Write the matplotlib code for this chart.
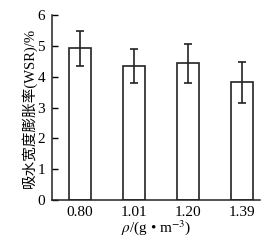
import numpy as np
import matplotlib
matplotlib.use('Agg')
import matplotlib.pyplot as plt

plt.rcParams['font.family'] = ['Liberation Serif', 'Noto Sans CJK SC']
plt.rcParams['mathtext.fontset'] = 'stix'

densities = ['0.80', '1.01', '1.20', '1.39']
wsr = [4.92, 4.34, 4.44, 3.82]
wsr_err = [0.57, 0.55, 0.63, 0.67]

fig = plt.figure(figsize=(2.62, 2.43), dpi=100)
ax = fig.add_axes([0.198, 0.177, 0.794, 0.761])

x = np.arange(len(densities))
ax.bar(x, wsr, width=0.41, color='white', edgecolor='#222222', linewidth=1.2,
       yerr=wsr_err, capsize=3,
       error_kw=dict(ecolor='#222222', elinewidth=1.2, capthick=1.2))

ax.set_xlim(-0.52, 3.33)
ax.set_ylim(0, 6)
ax.set_yticks(range(7))
ax.set_xticks(x)
ax.set_xticklabels(densities)
ax.tick_params(axis='y', direction='in', length=4, width=1, labelsize=11, pad=5)
ax.tick_params(axis='x', length=0, labelsize=11, pad=4)
for s in ['top', 'right']:
    ax.spines[s].set_visible(False)
for s in ['left', 'bottom']:
    ax.spines[s].set_linewidth(1.1)
    ax.spines[s].set_color('#222222')

ax.set_ylabel('吸水宽度膨胀率(WSR)/%', fontsize=10.5, labelpad=0)
ax.set_xlabel(r'$\rho$/(g • m$^{-3}$)', fontsize=11, labelpad=0)

fig.savefig('out.png', dpi=100)
